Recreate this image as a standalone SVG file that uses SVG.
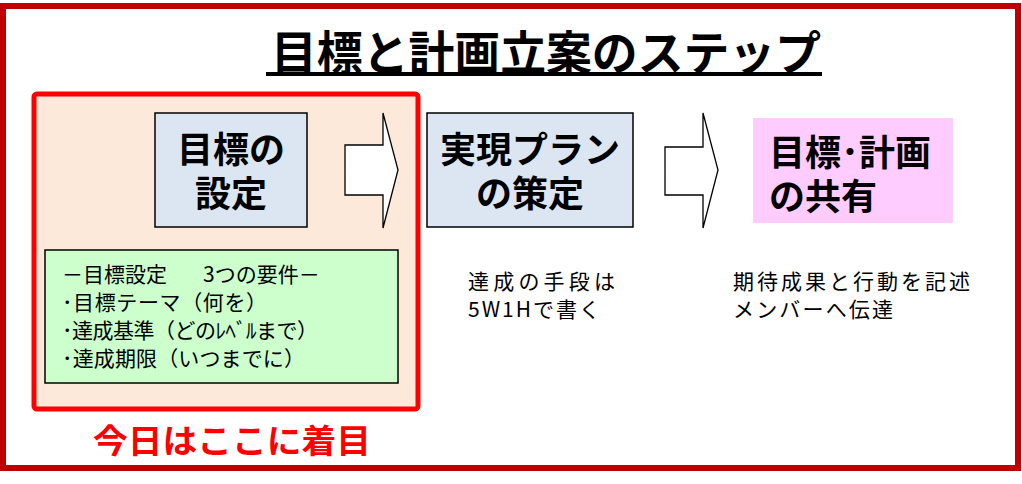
<svg xmlns="http://www.w3.org/2000/svg" width="1022" height="484" viewBox="0 0 1022 484">
<style>
.jp{font-family:"Noto Sans CJK JP","Liberation Sans",sans-serif;}
.big{font-size:36px;font-weight:bold;fill:#000;}
.body{font-size:21px;fill:#000;}
.note{font-size:21px;fill:#000;}
.box{stroke:#000;stroke-width:1.5;}
.arrow{fill:#fff;stroke:#000;stroke-width:1.3;stroke-linejoin:miter;}
</style>
<rect x="0" y="0" width="1022" height="484" fill="#fff"/>
<rect id="frame" x="3" y="6" width="1015" height="462" fill="none" stroke="#c00000" stroke-width="6"/>
<g id="title">
<text class="jp" x="546" y="70" text-anchor="middle" font-size="47" font-weight="bold" textLength="550" lengthAdjust="spacingAndGlyphs">目標と計画立案のステップ</text>
<rect x="266" y="72" width="556" height="4" fill="#000"/>
</g>
<g id="focus-area">
<rect x="34" y="94" width="384" height="315" rx="3" fill="#fde9d9" stroke="#ff0000" stroke-width="5"/>
</g>
<g id="node-goal">
<rect class="box" x="155" y="113" width="152" height="114" fill="#dce6f2"/>
<text class="jp big" text-anchor="middle"><tspan x="231" y="163">目標の</tspan><tspan x="231" y="207">設定</tspan></text>
</g>
<g id="node-plan">
<rect class="box" x="427" y="113" width="206" height="114" fill="#dce6f2"/>
<text class="jp big" text-anchor="middle"><tspan x="530" y="163">実現プラン</tspan><tspan x="530" y="207">の策定</tspan></text>
</g>
<g id="node-share">
<rect x="753" y="118" width="200" height="105" fill="#ffccff"/>
<text class="jp big"><tspan x="769" y="166">目標･計画</tspan><tspan x="769" y="210">の共有</tspan></text>
</g>
<g id="connectors">
<polygon class="arrow" points="345,145 383,145 383,113 398,170 383,228 383,195 345,195"/>
<polygon class="arrow" points="665,147 703,147 703,113 718,170 703,228 703,195 665,195"/>
</g>
<g id="node-requirements">
<rect class="box" x="45" y="250" width="353" height="133" fill="#ccffcc"/>
<text class="jp body" y="282"><tspan x="62">－目標設定</tspan><tspan x="203">3つの要件－</tspan></text>
<text class="jp body" x="62" y="310" textLength="205" lengthAdjust="spacing">･目標テーマ（何を）</text>
<text class="jp body" x="62" y="338" textLength="256" lengthAdjust="spacing">･達成基準（どのﾚﾍﾞﾙまで）</text>
<text class="jp body" x="62" y="366" textLength="243" lengthAdjust="spacing">･達成期限（いつまでに）</text>
</g>
<g id="note-plan">
<text class="jp note" x="468" y="289" textLength="147" lengthAdjust="spacing">達成の手段は</text>
<text class="jp note" x="468" y="317" textLength="132" lengthAdjust="spacing">5W1Hで書く</text>
</g>
<g id="note-share">
<text class="jp note" x="733" y="289" textLength="237" lengthAdjust="spacing">期待成果と行動を記述</text>
<text class="jp note" x="733" y="317" textLength="160" lengthAdjust="spacing">メンバーへ伝達</text>
</g>
<g id="focus-label">
<text class="jp" x="232" y="453" text-anchor="middle" font-size="33" font-weight="bold" fill="#ff0000" textLength="278" lengthAdjust="spacingAndGlyphs">今日はここに着目</text>
</g>
</svg>
